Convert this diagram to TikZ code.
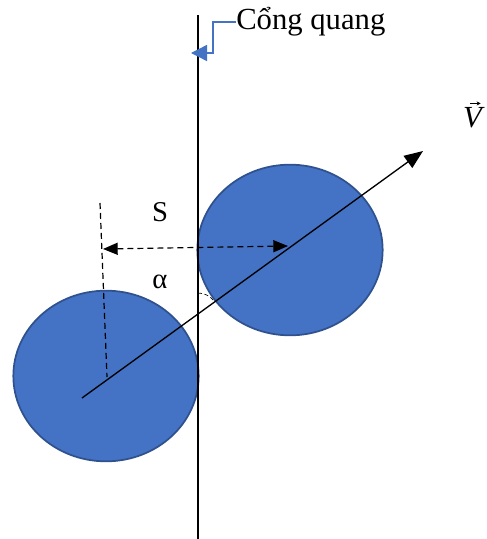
\documentclass[tikz,border=0pt]{standalone}
\usepackage{fontspec}
\setmainfont{Liberation Serif}
\usetikzlibrary{arrows.meta,shapes.geometric}
\definecolor{ballfill}{HTML}{4472C4}
\definecolor{balledge}{HTML}{2F528F}
\definecolor{callout}{HTML}{4472C4}
\begin{document}
\begin{tikzpicture}[x=0.75pt,y=-0.75pt,
  ball/.style={ellipse,draw=balledge,line width=1.3pt,fill=ballfill,minimum width=139pt,minimum height=128pt,inner sep=0pt},
  lbl/.style={font=\fontsize{21.5}{24}\selectfont,inner sep=0pt},
  dsh/.style={line width=0.9pt,dash pattern=on 4.5pt off 3pt}]
\useasboundingbox (0,0) rectangle (486,539);
\node[ball] (b1) at (106,376) {};
\node[ball] (b2) at (290,250) {};
% gate line
\coordinate (gtop) at (198,15);
\coordinate (gbot) at (198,539);
\draw[line width=0.9pt] (gtop) -- (gbot);
% velocity
\coordinate (vs) at (82,398);
\coordinate (ve) at (423,151);
\draw[line width=1pt,-{Triangle[length=14pt,width=11pt]}] (vs) -- (ve);
% dashed vertical
\coordinate (dt) at (100,203);
\coordinate (db) at (107,377);
\draw[dsh] (dt) -- (db);
% S arrow
\coordinate (sl) at (103,249);
\coordinate (sr) at (288,246);
\draw[dsh,{Triangle[length=11pt,width=9pt]}-{Triangle[length=11pt,width=9pt]}] (sl) -- (sr);
% alpha arc
\coordinate (as) at (198,293);
\draw[densely dashed,line width=0.5pt] (as) arc[start angle=90,end angle=36,radius=15pt];
\node[lbl] (S) at (160,212) {S};
\node[lbl] (al) at (160,282) {α};
\node[lbl,font=\fontsize{23}{26}\selectfont] (V) at (474,118) {\textit{V}};
\draw[line width=0.6pt,-{Stealth[length=3pt,width=3pt]}] ([xshift=-3pt,yshift=3pt]V.north) -- ([xshift=5pt,yshift=3pt]V.north);
\node[lbl,font=\fontsize{23}{26}\selectfont,anchor=west] (cq) at (236,22) {Cổng quang};
\draw[callout,line width=1pt,-{Triangle[length=12pt,width=12pt]}] (cq.west) -- (213,22) -- (213,53) -- (191,53);
\end{tikzpicture}
\end{document}
